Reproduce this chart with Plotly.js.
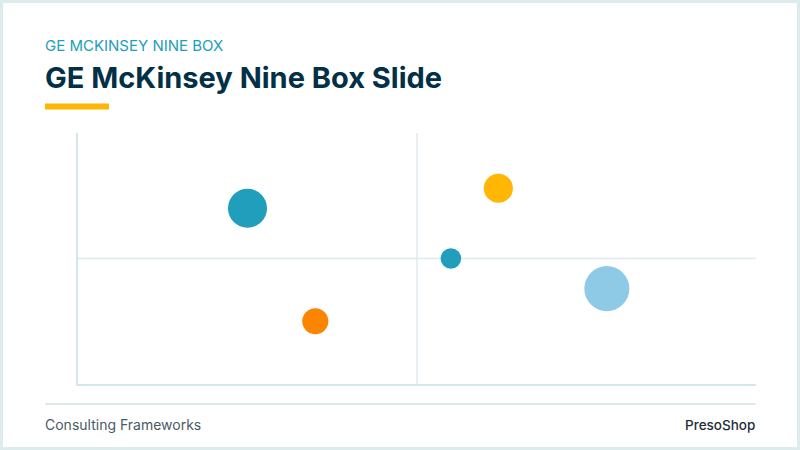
<!DOCTYPE html>
<html>
<head>
<meta charset="utf-8">
<script src="https://cdn.plot.ly/plotly-3.0.1.min.js"></script>
<style>
  html, body { margin: 0; padding: 0; background: #dcecec; }
  #card { position: absolute; left: 3px; top: 3px; width: 794px; height: 444px; background: #ffffff; }
  #graph { position: absolute; left: -3px; top: -3px; width: 800px; height: 450px; }
</style>
</head>
<body>
<div id="card"><div id="graph"></div></div>
<script>
// business units: market attractiveness (y) vs business strength (x), bubble = revenue
var units = ['Unit A', 'Unit B', 'Unit C', 'Unit D', 'Unit E'];
var strength = [25, 35, 62, 55, 78];
var attractiveness = [70, 25, 78, 50, 38];
var revenue = [36, 16, 20, 10, 48];
var colors = ['#219ebc', '#fb8500', '#ffb703', '#219ebc', '#8ecae6'];

var font = 'Inter, "Open Sans", sans-serif';

var trace = {
  x: strength,
  y: attractiveness,
  text: units,
  mode: 'markers',
  type: 'scatter',
  hoverinfo: 'text',
  marker: {
    size: revenue,
    sizemode: 'area',
    sizeref: 0.0472,
    color: colors,
    opacity: 1,
    line: { width: 0 }
  }
};

var layout = {
  width: 800,
  height: 450,
  margin: { l: 78, r: 44, t: 133, b: 66 },
  paper_bgcolor: 'rgba(0,0,0,0)',
  plot_bgcolor: 'rgba(0,0,0,0)',
  showlegend: false,
  xaxis: {
    range: [0, 100],
    showgrid: false,
    zeroline: false,
    showticklabels: false,
    ticks: '',
    showline: true,
    linecolor: '#d3e7e8',
    linewidth: 2,
    fixedrange: true
  },
  yaxis: {
    range: [0, 100],
    showgrid: false,
    zeroline: false,
    showticklabels: false,
    ticks: '',
    showline: true,
    linecolor: '#d3e7e8',
    linewidth: 2,
    fixedrange: true
  },
  shapes: [
    // quadrant dividers
    { type: 'line', xref: 'x', yref: 'paper', x0: 50, x1: 50, y0: 0, y1: 1,
      line: { color: '#e0e9ee', width: 1.5 }, layer: 'below' },
    { type: 'line', xref: 'paper', yref: 'y', x0: 0, x1: 1, y0: 50, y1: 50,
      line: { color: '#e0e9ee', width: 1.5 }, layer: 'below' },
    // yellow accent under the title
    { type: 'line', xref: 'paper', yref: 'paper', x0: -0.0487, x1: 0.0457, y0: 1.106, y1: 1.106,
      line: { color: '#ffb703', width: 6 } },
    // footer rule
    { type: 'line', xref: 'paper', yref: 'paper', x0: -0.0487, x1: 0.999, y0: -0.08, y1: -0.08,
      line: { color: '#dce9ea', width: 2 } }
  ],
  annotations: [
    { text: 'GE MCKINSEY NINE BOX', xref: 'paper', yref: 'paper', x: -0.0516, y: 1.347,
      xanchor: 'left', yanchor: 'middle', showarrow: false,
      font: { family: font, size: 15, color: '#219ebc' } },
    { text: 'GE McKinsey Nine Box Slide', xref: 'paper', yref: 'paper', x: -0.0516, y: 1.22,
      xanchor: 'left', yanchor: 'middle', showarrow: false,
      font: { family: font, size: 29, color: '#023047', weight: 700 } },
    { text: 'Consulting Frameworks', xref: 'paper', yref: 'paper', x: -0.0516, y: -0.163,
      xanchor: 'left', yanchor: 'middle', showarrow: false,
      font: { family: font, size: 14, color: '#4b5a64' } },
    { text: 'PresoShop', xref: 'paper', yref: 'paper', x: 1.002, y: -0.163,
      xanchor: 'right', yanchor: 'middle', showarrow: false,
      font: { family: font, size: 13.5, color: '#1f2d37', weight: 500 } }
  ]
};

var config = { displayModeBar: false, staticPlot: true };

Plotly.newPlot('graph', [trace], layout, config);
</script>
</body>
</html>
